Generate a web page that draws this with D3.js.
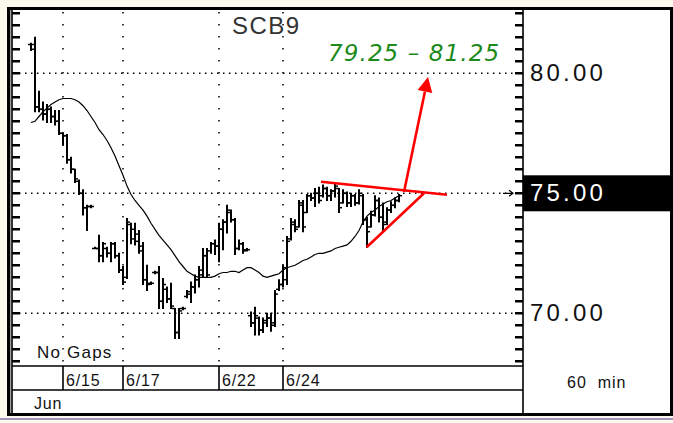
<!DOCTYPE html>
<meta charset="utf-8">
<style>
body { margin: 0; background: #fcfaee; }
svg { display: block; }
text { font-family: "Liberation Sans", Arial, sans-serif; }
.grid { stroke: #000; stroke-width: 1.5px; fill: none; }
.bar { stroke: #000; stroke-width: 2px; }
.oc { stroke: #000; stroke-width: 1.5px; }
.ma { fill: none; stroke: #000; stroke-width: 1.2px; }
.red { stroke: #ff0000; stroke-width: 2.6px; fill: none; }
</style>
<svg width="673" height="423"></svg>
<script src="https://d3js.org/d3.v7.min.js"></script>
<script>

// 60 min bars, SCB9
var opens = [81.2,81.2,78.6,78.5,78.3,78.5,78.2,78.0,77.5,77.4,
  76.4,76.0,75.5,75.0,74.4,74.45,72.7,72.7,72.4,72.7,
  72.5,72.9,72.4,71.8,71.5,73.7,73.5,73.3,72.8,71.4,
  71.25,71.7,71.7,70.5,71.0,70.6,70.2,69.2,70.2,70.7,
  70.8,71.1,71.4,71.6,72.4,72.6,72.9,72.8,73.5,73.8,
  74.2,73.9,72.7,72.9,72.65,69.9,69.6,69.8,69.3,69.6,
  69.8,69.6,71.0,71.2,71.4,73.1,73.7,73.6,74.5,74.2,
  74.9,74.8,75.0,74.9,75.2,74.9,75.1,75.2,74.6,75.0,
  74.6,74.9,74.6,74.9,73.9,73.6,74.1,74.7,74.0,73.8,
  74.3,74.5,74.7];
var highs = [81.25,81.5,79.25,78.8,78.7,78.6,78.45,78.45,77.5,77.45,
  76.5,76.0,75.55,75.15,74.5,74.5,72.75,73.25,72.95,72.75,
  72.95,72.95,72.5,71.95,73.95,73.75,73.75,73.45,72.95,72.0,
  71.3,71.75,71.95,71.45,71.1,71.25,70.2,70.2,70.25,70.95,
  71.3,71.6,71.95,72.7,72.7,72.95,73.05,73.75,73.9,74.5,
  74.3,73.95,73.05,72.95,72.7,70.05,70.25,69.85,69.8,70.0,
  70.0,70.95,71.4,72.0,73.2,73.95,73.9,74.7,74.7,74.95,
  75.0,75.2,75.25,75.35,75.25,75.15,75.45,75.2,75.15,75.05,
  75.0,74.95,75.15,74.95,74.0,74.25,74.9,74.8,74.6,74.4,
  74.65,74.8,74.95];
var lows = [80.95,78.4,78.4,78.05,77.95,77.95,77.85,77.45,77.0,76.25,
  75.85,75.45,74.95,74.1,73.45,74.4,72.7,72.15,72.15,72.35,
  72.15,72.3,71.7,71.2,71.45,72.9,72.85,72.5,71.2,70.95,
  71.2,71.65,70.2,70.2,70.45,70.2,68.95,68.95,70.15,70.65,
  70.45,70.85,71.1,71.5,71.5,72.5,72.45,72.15,72.65,73.35,
  73.8,72.45,72.65,72.5,72.6,69.45,69.1,69.1,69.2,69.45,
  69.25,69.45,70.95,71.1,71.2,73.05,73.4,73.6,73.4,74.2,
  74.7,74.45,74.6,74.85,74.7,74.7,74.85,74.2,74.6,74.45,
  74.45,74.5,74.55,73.7,72.75,73.6,74.05,73.8,73.45,73.7,
  74.2,74.4,74.65];
var closes = [81.0,78.6,78.5,78.3,78.5,78.2,78.0,77.5,77.4,76.4,
  76.0,75.6,75.0,74.4,74.45,74.45,72.7,72.4,72.9,72.5,
  72.9,72.4,71.8,71.3,73.8,73.1,73.0,72.6,71.4,71.2,
  71.25,71.7,70.5,71.2,70.6,70.3,69.2,70.1,70.2,70.9,
  71.1,71.4,71.8,72.4,71.6,72.9,72.8,73.5,73.8,74.3,
  73.9,72.7,72.9,72.6,72.65,69.6,69.9,69.3,69.7,69.8,
  69.5,70.8,71.2,71.9,73.0,73.8,73.5,74.6,73.6,74.9,
  74.8,75.0,74.7,75.2,74.9,75.1,75.3,74.4,75.0,74.6,
  74.9,74.6,75.0,73.9,73.4,74.1,74.7,74.0,73.7,74.3,
  74.5,74.7,74.9];
// moving average
var ma = [77.95,78.0,78.2,78.4,78.55,78.7,78.8,78.9,78.95,78.95,
  78.95,78.9,78.8,78.65,78.45,78.2,77.95,77.65,77.45,77.2,
  76.9,76.55,76.15,75.75,75.3,74.95,74.7,74.5,74.3,74.05,
  73.75,73.5,73.25,73.05,72.85,72.65,72.4,72.15,71.95,71.75,
  71.65,71.55,71.5,71.5,71.5,71.5,71.55,71.65,71.7,71.7,
  71.75,71.75,71.7,71.8,71.9,71.9,71.8,71.7,71.55,71.5,
  71.55,71.6,71.65,71.8,71.9,71.95,72.0,72.1,72.2,72.25,
  72.35,72.45,72.5,72.5,72.55,72.6,72.7,72.75,72.8,72.85,
  73.0,73.2,73.45,73.8,74.05,74.2,74.3,74.45,74.55,74.65,
  74.7,74.8,74.9];

var dayIdx = [8, 23, 47, 63];
var dayLabels = ["6/15", "6/17", "6/22", "6/24"];
var priceLabels = [70, 75, 80];
var minorTicks = [68, 68.5, 69, 69.5, 70, 70.5, 71, 71.5, 72, 72.5, 73, 73.5, 74, 74.5,
  75, 75.5, 76, 76.5, 77, 77.5, 78, 78.5, 79, 79.5, 80, 80.5, 81, 81.5, 82, 82.5];
var lastPrice = 75;

// triangle + target arrow (bar index, price)
var triTop = [[72.5, 75.48], [104, 74.94]];
var triLow = [[83.9, 72.75], [98.25, 75.0]];
var arrowPts = [[93.25, 75.05], [99.25, 79.85]];
var target = "79.25 \u2013 81.25";

var svg = d3.select("svg"),
    plotL = 12, plotR = 523, plotB = 366, dateRow = 390;

var x = d3.scaleLinear().domain([0, opens.length - 1]).range([31, 399]),
    y = d3.scaleLinear().domain([70, 80]).range([313.3, 73.3]);

// frame
svg.append("rect").attr("x", 0).attr("y", 418).attr("width", 673).attr("height", 2).attr("fill", "#a596bb");
svg.append("rect")
    .attr("x", 8.5).attr("y", 8.5).attr("width", 663).attr("height", 406)
    .attr("fill", "#fff").attr("stroke", "#000").attr("stroke-width", 3);
svg.append("line").attr("x1", 10.6).attr("x2", 10.6).attr("y1", 10).attr("y2", 413)
    .attr("stroke", "#999").attr("stroke-width", 1);
svg.append("line").attr("x1", plotL).attr("x2", plotL).attr("y1", 10).attr("y2", 413)
    .attr("stroke", "#000").attr("stroke-width", 1.6);
svg.append("line").attr("x1", plotR).attr("x2", plotR).attr("y1", 10).attr("y2", 413)
    .attr("stroke", "#000").attr("stroke-width", 1.6);
[plotB, dateRow].forEach(function(yy) {
  svg.append("line").attr("x1", plotL).attr("x2", plotR).attr("y1", yy).attr("y2", yy)
      .attr("stroke", "#000").attr("stroke-width", 1.6);
});

// grid
svg.append("g").selectAll("line")
    .data(priceLabels).enter().append("line")
    .attr("class", "grid")
    .attr("x1", 19).attr("x2", 517)
    .attr("y1", function(d) { return y(d); }).attr("y2", function(d) { return y(d); })
    .attr("stroke-dasharray", "1.5 4.5");
svg.append("g").selectAll("line")
    .data(dayIdx).enter().append("line")
    .attr("class", "grid")
    .attr("x1", function(d) { return x(d); }).attr("x2", function(d) { return x(d); })
    .attr("y1", 12).attr("y2", plotB)
    .attr("stroke-dasharray", "1.5 10.5");

// last price box
svg.append("rect")
    .attr("x", plotR).attr("y", y(lastPrice) - 18).attr("width", 671 - plotR).attr("height", 36)
    .attr("fill", "#000");
var pax = svg.append("g")
    .attr("transform", "translate(" + plotR + ",0)")
    .call(d3.axisRight(y).tickValues(priceLabels).tickSize(0).tickPadding(7)
      .tickFormat(d3.format(".2f")));
pax.select(".domain").remove();
pax.selectAll("text")
    .style("font-size", "24px").style("letter-spacing", "3.2px")
    .attr("fill", function(d) { return d === lastPrice ? "#fff" : "#111"; });

// last price arrow
svg.append("path")
    .attr("d", "M503," + y(lastPrice) + "H513M509," + (y(lastPrice) - 3) + "L513," + y(lastPrice) + "L509," + (y(lastPrice) + 3))
    .attr("stroke", "#000").attr("stroke-width", 1.2).attr("fill", "none");

// bars
var idx = d3.range(opens.length);
var bars = svg.append("g");
bars.selectAll(".bar").data(idx).enter().append("line")
    .attr("class", "bar")
    .attr("x1", function(i) { return x(i); }).attr("x2", function(i) { return x(i); })
    .attr("y1", function(i) { return y(highs[i]) - 0.5; })
    .attr("y2", function(i) { return y(lows[i]) + 0.5; });
bars.selectAll(".o").data(idx).enter().append("line")
    .attr("class", "oc")
    .attr("x1", function(i) { return x(i) - 3; }).attr("x2", function(i) { return x(i); })
    .attr("y1", function(i) { return y(opens[i]); }).attr("y2", function(i) { return y(opens[i]); });
bars.selectAll(".c").data(idx).enter().append("line")
    .attr("class", "oc")
    .attr("x1", function(i) { return x(i); }).attr("x2", function(i) { return x(i) + 3; })
    .attr("y1", function(i) { return y(closes[i]); }).attr("y2", function(i) { return y(closes[i]); });

// moving average
svg.append("path")
    .datum(idx)
    .attr("class", "ma")
    .attr("d", d3.line().x(function(i) { return x(i); }).y(function(i) { return y(ma[i]); }));

// red pattern
var pl = d3.line().x(function(d) { return x(d[0]); }).y(function(d) { return y(d[1]); });
svg.append("path").attr("class", "red").attr("d", pl(triTop));
svg.append("path").attr("class", "red").attr("d", pl(triLow));
var a0 = arrowPts[0], a1 = arrowPts[1],
    tx = x(a1[0]), ty = y(a1[1]),
    dx = tx - x(a0[0]), dy = ty - y(a0[1]),
    len = Math.sqrt(dx * dx + dy * dy), ux = dx / len, uy = dy / len,
    hl = 15, hw = 7.5;
svg.append("line").attr("class", "red")
    .attr("x1", x(a0[0])).attr("y1", y(a0[1]))
    .attr("x2", tx - ux * hl).attr("y2", ty - uy * hl);
svg.append("path")
    .attr("fill", "#ff0000")
    .attr("d", "M" + tx + "," + ty +
      "L" + (tx - ux * hl - uy * hw) + "," + (ty - uy * hl + ux * hw) +
      "L" + (tx - ux * hl + uy * hw) + "," + (ty - uy * hl - ux * hw) + "Z");

// texts
svg.append("text").attr("x", 232).attr("y", 34)
    .style("font-size", "24px").style("letter-spacing", "1.5px").attr("fill", "#333")
    .text("SCB9");
svg.append("text").attr("x", 328).attr("y", 61)
    .style("font-family", "'DejaVu Sans', Verdana, sans-serif")
    .style("font-style", "italic").style("font-size", "23px").style("letter-spacing", "1.1px")
    .attr("fill", "#1b8a1b")
    .text(target);
svg.append("text").attr("x", 37).attr("y", 358)
    .style("font-size", "17px").style("letter-spacing", "1.2px").attr("fill", "#111")
    .text("No Gaps");

// date row
var dg = svg.append("g").selectAll("g").data(dayIdx).enter().append("g");
dg.append("line")
    .attr("x1", function(d) { return x(d); }).attr("x2", function(d) { return x(d); })
    .attr("y1", plotB).attr("y2", dateRow)
    .attr("stroke", "#000").attr("stroke-width", 1.6);
dg.append("text")
    .attr("x", function(d) { return x(d) + 3; }).attr("y", 386)
    .style("font-size", "16px").style("letter-spacing", "0.8px").attr("fill", "#111")
    .text(function(d, i) { return dayLabels[i]; });
svg.append("text").attr("x", 34).attr("y", 409)
    .style("font-size", "16px").style("letter-spacing", "0.8px").attr("fill", "#111")
    .text("Jun");
svg.append("text").attr("x", 567).attr("y", 388)
    .style("font-size", "16px").style("letter-spacing", "1px").style("white-space", "pre").attr("fill", "#111")
    .text("60  min");

// minor ticks on both price edges, drawn last
var tg = svg.append("g");
tg.selectAll("rect.tl").data(minorTicks).enter().append("rect")
    .attr("class", "tl")
    .attr("x", plotL).attr("width", 8).attr("height", 2.5)
    .attr("y", function(d) { return Math.round(y(d)) - 1; })
    .attr("fill", "#000");
tg.selectAll("rect.tr").data(minorTicks).enter().append("rect")
    .attr("class", "tr")
    .attr("x", plotR - 8).attr("width", 8).attr("height", 2.5)
    .attr("y", function(d) { return Math.round(y(d)) - 1; })
    .attr("fill", "#000");

</script>
